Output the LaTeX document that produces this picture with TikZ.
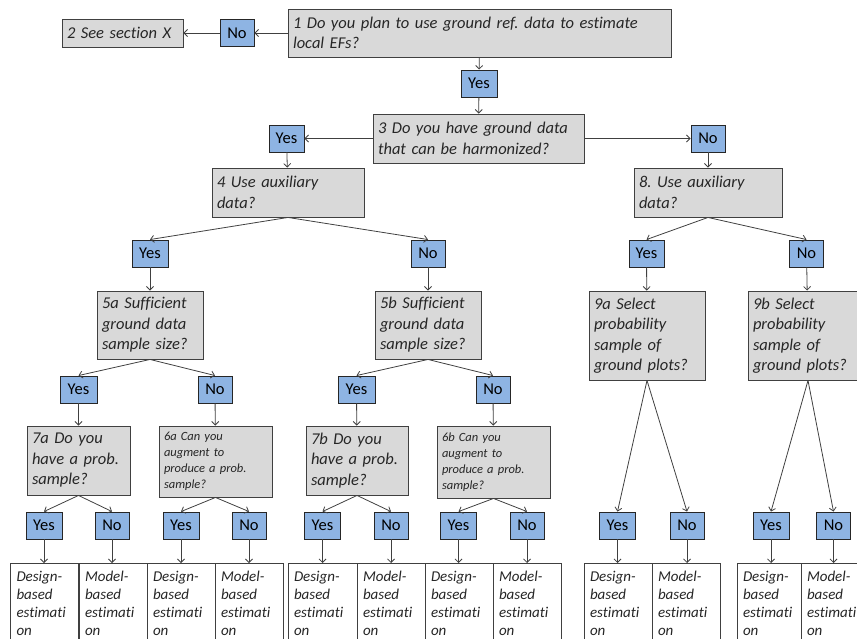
\documentclass[tikz,border=0pt]{standalone}
\usepackage{fontspec}
\setmainfont{Carlito}[Ligatures=NoCommon]
\usepackage{xcolor}
\usetikzlibrary{positioning,arrows.meta}
\definecolor{qgray}{RGB}{217,217,217}
\definecolor{ansblue}{RGB}{142,180,227}
\definecolor{edgegray}{RGB}{64,64,64}
\frenchspacing

\begin{document}
\begin{tikzpicture}[
          x=1pt, y=-1pt,
          question/.style={draw=edgegray, fill=qgray, line width=0.9pt, inner xsep=5pt, inner ysep=2pt, align=left, text=black!85, font=\itshape\fontsize{16.5}{20.5}\selectfont},
          smallq/.style={question, font=\itshape\fontsize{12.5}{16}\selectfont},
          answer/.style={draw=black!85, fill=ansblue, line width=0.9pt, minimum height=27pt, inner sep=0pt, font=\fontsize{16.5}{20}\selectfont},
          leaf/.style={draw=edgegray, fill=white, line width=0.8pt, anchor=north, inner xsep=6pt, inner ysep=7.5pt, align=left, text=black!85, font=\itshape\fontsize{15}{18}\selectfont},
          arr/.style={-{Straight Barb[length=3.5pt,width=7pt]}, draw=edgegray, line width=0.8pt}
      ]
        \useasboundingbox (0,0) rectangle (857,639);
        \clip (0,0) rectangle (857,639);
        % top of the tree
        \node[question, text width=373pt, minimum height=48pt] (q1) at (479.5,33) {1 Do you plan to use ground ref. data to estimate\\local EFs?};
        \node[answer, minimum width=34pt] (n1) at (237,33) {No};
        \node[question, text width=111pt, minimum height=28pt] (q2) at (122.5,33) {2 See section X};
        \node[answer, minimum width=36pt] (y1) at (479,83.5) {Yes};
        \node[question, text width=201pt, minimum height=49pt] (q3) at (478.5,138.5) {3 Do you have ground data\\that can be harmonized?};
        \node[answer, minimum width=35pt] (y3) at (286.5,138.5) {Yes};
        \node[answer, minimum width=34pt] (n3) at (708,138.5) {No};
        \node[question, text width=142pt, minimum height=49pt] (q4) at (288,192.5) {4 Use auxiliary\\data?};
        \node[question, text width=138pt, minimum height=49pt] (q8) at (708,192.5) {8. Use auxiliary\\data?};
        \draw[arr] (q1) -- (n1);
        \draw[arr] (n1) -- (q2);
        \draw[arr] (q1) -- (y1);
        \draw[arr] (y1) -- (q3);
        \draw[arr] (q3) -- (y3);
        \draw[arr] (q3) -- (n3);
        \draw[arr] (y3) -- (q4);
        \draw[arr] (n3) -- (q8);
        % second level
        \node[answer, minimum width=36pt] (y4) at (150,253.5) {Yes};
        \node[answer, minimum width=34pt] (n4) at (428,253.5) {No};
        \node[answer, minimum width=35pt] (y8) at (646.5,253.5) {Yes};
        \node[answer, minimum width=34pt] (n8) at (806.5,253.5) {No};
        \draw[arr] (q4.south) -- (y4.north);
        \draw[arr] (q4.south) -- (n4.north);
        \draw[arr] (q8.south) -- (y8.north);
        \draw[arr] (q8.south) -- (n8.north);
        \node[question, text width=96pt, minimum height=68pt] (q5a) at (150,325) {5a Sufficient\\ground data\\sample size?};
        \node[question, text width=96pt, minimum height=68pt] (q5b) at (428,325) {5b Sufficient\\ground data\\sample size?};
        \node[question, text width=106pt, minimum height=89pt] (q9a) at (647,335.5) {9a Select\\probability\\sample of\\ground plots?};
        \node[question, text width=110pt, minimum height=89pt] (q9b) at (808,335.5) {9b Select\\probability\\sample of\\ground plots?};
        \draw[arr] (y4) -- (q5a);
        \draw[arr] (n4) -- (q5b);
        \draw[arr] (y8) -- (q9a);
        \draw[arr] (n8) -- (q9b);
        % third level
        \node[answer, minimum width=37pt] (y5a) at (78.5,389.5) {Yes};
        \node[answer, minimum width=34pt] (n5a) at (215,389.5) {No};
        \node[answer, minimum width=37pt] (y5b) at (356.5,389.5) {Yes};
        \node[answer, minimum width=34pt] (n5b) at (493,389.5) {No};
        \draw[arr] (q5a.south) -- (y5a.north);
        \draw[arr] (q5a.south) -- (n5a.north);
        \draw[arr] (q5b.south) -- (y5b.north);
        \draw[arr] (q5b.south) -- (n5b.north);
        \node[question, text width=93pt, minimum height=69pt] (q7a) at (78.5,460.5) {7a Do you\\have a prob.\\sample?};
        \node[smallq, text width=103pt, minimum height=71pt] (q6a) at (215.5,461.5) {6a Can you\\augment to\\produce a prob.\\sample?};
        \node[question, text width=92pt, minimum height=69pt] (q7b) at (357,460.5) {7b Do you\\have a prob.\\sample?};
        \node[smallq, text width=103pt, minimum height=72pt] (q6b) at (493.5,462) {6b Can you\\augment to\\produce a prob.\\sample?};
        \draw[arr] (y5a) -- (q7a);
        \draw[arr] (n5a) -- (q6a);
        \draw[arr] (y5b) -- (q7b);
        \draw[arr] (n5b) -- (q6b);
        % answers and estimation boxes
        \foreach \src/\yx/\nx/\ylx/\nlx/\wl/\wr in {q7a/44/112/44.5/113/56/56, q6a/181/249/181/249/56/56,
            q7b/322.5/391/322.5/391/57/56, q6b/458.5/527/459/527/56/56,
            q9a/617.5/687/618/686/56/56, q9b/771/833.5/769/835/52/56}{
          \node[answer, minimum width=36pt] (y-\src) at (\yx,525.5) {Yes};
          \node[answer, minimum width=34pt] (n-\src) at (\nx,525.5) {No};
          \node[leaf, text width=\wl pt] (ly-\src) at (\ylx,563) {Design-\\based\\estimati\\on};
          \node[leaf, text width=\wr pt] (ln-\src) at (\nlx,563) {Model-\\based\\estimati\\on};
          \draw[arr] (\src.south) -- (y-\src.north);
          \draw[arr] (\src.south) -- (n-\src.north);
          \draw[arr] (y-\src.south) -- (y-\src.south |- ly-\src.north);
          \draw[arr] (n-\src.south) -- (n-\src.south |- ln-\src.north);
        }
      \end{tikzpicture}
\end{document}
